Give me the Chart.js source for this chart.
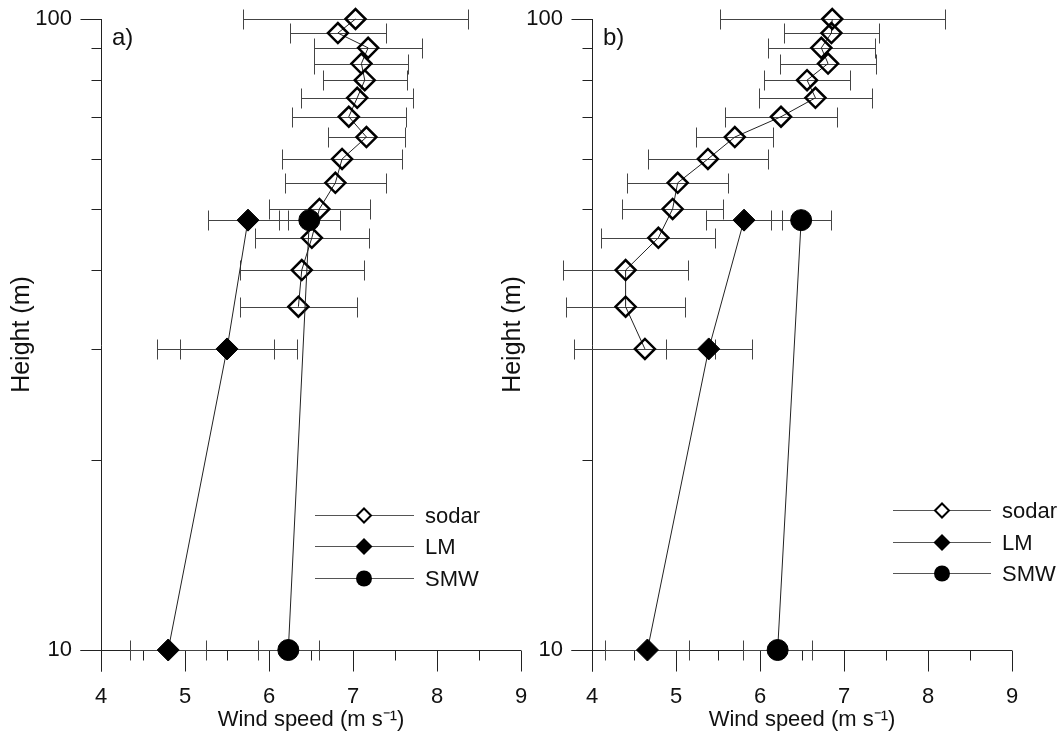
<!DOCTYPE html>
<html>
<head>
<meta charset="utf-8">
<script src="https://cdn.jsdelivr.net/npm/chart.js@4.4.1/dist/chart.umd.min.js"></script>
<style>
  html, body { margin: 0; padding: 0; background: #fff; }
  #wrap { position: relative; width: 1062px; height: 738px; overflow: hidden; }
  canvas { position: absolute; top: 0; }
  #chartA { left: 0; }
  #chartB { left: 491px; }
</style>
</head>
<body>
<div id="wrap">
  <canvas id="chartA" width="531" height="738"></canvas>
  <canvas id="chartB" width="571" height="738"></canvas>
</div>
<script>
// sodar profiles, bottom to top
const sodarHeightsA = [35, 40, 45, 50, 55, 60, 65, 70, 75, 80, 85, 90, 95, 100];
const sodarSpeedA   = [6.35, 6.39, 6.51, 6.60, 6.79, 6.87, 7.16, 6.95, 7.05, 7.14, 7.10, 7.18, 6.82, 7.03];
const sodarErrA     = [0.70, 0.74, 0.68, 0.60, 0.60, 0.71, 0.46, 0.68, 0.67, 0.50, 0.56, 0.64, 0.57, 1.34];

const sodarHeightsB = [30, 35, 40, 45, 50, 55, 60, 65, 70, 75, 80, 85, 90, 95, 100];
const sodarSpeedB   = [4.63, 4.40, 4.40, 4.79, 4.96, 5.02, 5.38, 5.70, 6.25, 6.66, 6.56, 6.81, 6.73, 6.85, 6.86];
const sodarErrB     = [0.84, 0.71, 0.74, 0.68, 0.60, 0.60, 0.71, 0.46, 0.67, 0.67, 0.51, 0.57, 0.64, 0.57, 1.34];

// model profiles
const lmHeights    = [10, 30, 48];
const lmSpeedA     = [4.80, 5.50, 5.75];
const lmErrA       = [0.45, 0.83, 0.48];
const lmErrInnerA  = [0, 0.56, 0];
const lmSpeedB     = [4.66, 5.39, 5.81];
const lmErrB       = [0.50, 0.51, 0.45];

const smwHeights   = [10, 48];
const smwSpeedA    = [6.23, 6.48];
const smwErrA      = [0.36, 0.36];
const smwSpeedB    = [6.21, 6.49];
const smwErrB      = [0.41, 0.36];

const seriesNames = ['sodar', 'LM', 'SMW'];
const xTickValues = [4, 5, 6, 7, 8, 9];
const xHalfTicks  = [4.5, 5.5, 6.5, 7.5, 8.5];
const yTicks      = [10, 20, 30, 40, 50, 60, 70, 80, 90, 100];
const yLabelled   = [10, 100];
const xTitle = 'Wind speed (m s\u207B\u00B9)';
const yTitle = 'Height (m)';

const FONT = '"Liberation Sans", Arial, Helvetica, sans-serif';
Chart.defaults.font.family = FONT;
Chart.defaults.color = '#111';

const pts = (xs, ys) => xs.map((v, i) => ({ x: v, y: ys[i] }));

function errBar(ctx, xs, ys, x0, x1, y0) {
  const a = Math.round(xs.getPixelForValue(x0)) + 0.5;
  const b = Math.round(xs.getPixelForValue(x1)) + 0.5;
  const py = Math.round(ys.getPixelForValue(y0)) + 0.5;
  ctx.moveTo(a, py); ctx.lineTo(b, py);
  ctx.moveTo(a, py - 10); ctx.lineTo(a, py + 10);
  ctx.moveTo(b, py - 10); ctx.lineTo(b, py + 10);
}

const profileDecor = {
  id: 'profileDecor',
  beforeDatasetsDraw(chart) {
    const { ctx, scales: { x, y } } = chart;
    const left = Math.round(x.left) + 0.5, right = x.right;
    const top = y.top, bottom = Math.round(y.bottom) + 0.5;
    ctx.save();
    ctx.strokeStyle = '#222';
    ctx.lineWidth = 1;
    ctx.beginPath();
    // axis lines: the y axis runs on below 10 m, the x axis sits on the 10 m level
    ctx.moveTo(left, top); ctx.lineTo(left, bottom + 21);
    ctx.moveTo(left - 21, bottom); ctx.lineTo(right, bottom);
    yTicks.forEach(v => {
      const py = Math.round(y.getPixelForValue(v)) + 0.5;
      const len = yLabelled.includes(v) ? 21 : 10;
      ctx.moveTo(left - len, py); ctx.lineTo(left, py);
    });
    xTickValues.forEach(v => {
      const px = Math.round(x.getPixelForValue(v)) + 0.5;
      ctx.moveTo(px, bottom); ctx.lineTo(px, bottom + 21);
    });
    xHalfTicks.forEach(v => {
      const px = Math.round(x.getPixelForValue(v)) + 0.5;
      ctx.moveTo(px, bottom); ctx.lineTo(px, bottom + 10);
    });
    ctx.stroke();

    // horizontal error bars
    ctx.strokeStyle = '#444';
    ctx.beginPath();
    chart.data.datasets.forEach(ds => {
      if (!ds.xErr) return;
      ds.data.forEach((p, j) => {
        errBar(ctx, x, y, p.x - ds.xErr[j], p.x + ds.xErr[j], p.y);
        if (ds.xErrInner && ds.xErrInner[j]) {
          errBar(ctx, x, y, p.x - ds.xErrInner[j], p.x + ds.xErrInner[j], p.y);
        }
      });
    });
    ctx.stroke();
    ctx.restore();
  },
  afterDraw(chart, args, opts) {
    const ctx = chart.ctx;
    const lg = opts.legend;
    ctx.save();
    ctx.font = '24px ' + FONT;
    ctx.fillStyle = '#111';
    ctx.textBaseline = 'alphabetic';
    ctx.fillText(opts.label, chart.chartArea.left + opts.labelDx, 45);

    ctx.font = '22px ' + FONT;
    ctx.textBaseline = 'middle';
    seriesNames.forEach((name, k) => {
      const yy = Math.round(lg.rows[k]) + 0.5;
      ctx.strokeStyle = '#555';
      ctx.lineWidth = 1;
      ctx.beginPath();
      ctx.moveTo(lg.x1, yy); ctx.lineTo(lg.x2, yy);
      ctx.stroke();
      ctx.beginPath();
      if (k === 2) {
        ctx.arc(lg.xm, yy, 8, 0, Math.PI * 2);
      } else {
        const r = k === 0 ? 7 : 8.5;
        ctx.moveTo(lg.xm - r, yy); ctx.lineTo(lg.xm, yy - r);
        ctx.lineTo(lg.xm + r, yy); ctx.lineTo(lg.xm, yy + r);
        ctx.closePath();
      }
      ctx.fillStyle = k === 0 ? '#fff' : '#000';
      ctx.fill();
      if (k === 0) {
        ctx.strokeStyle = '#000';
        ctx.lineWidth = 2;
        ctx.stroke();
      }
      ctx.fillStyle = '#111';
      ctx.fillText(name, lg.xt, yy + 1);
    });
    ctx.restore();
  }
};

function makeChart(id, p) {
  const datasets = [
    {
      label: 'SMW', data: pts(p.smwSpeed, smwHeights), xErr: p.smwErr,
      showLine: true, clip: false, borderColor: '#222', borderWidth: 1,
      pointStyle: 'circle', pointRadius: 10.5,
      pointBackgroundColor: '#000', pointBorderColor: '#000', pointBorderWidth: 1
    },
    {
      label: 'LM', data: pts(p.lmSpeed, lmHeights), xErr: p.lmErr, xErrInner: p.lmErrInner,
      showLine: true, clip: false, borderColor: '#222', borderWidth: 1,
      pointStyle: 'rectRot', pointRadius: 11,
      pointBackgroundColor: '#000', pointBorderColor: '#000', pointBorderWidth: 1
    },
    {
      label: 'sodar', data: pts(p.sodarSpeed, p.sodarHeights), xErr: p.sodarErr,
      showLine: true, clip: false, borderColor: '#222', borderWidth: 1,
      pointStyle: 'rectRot', pointRadius: 10,
      pointBackgroundColor: 'rgba(0,0,0,0)', pointBorderColor: '#000', pointBorderWidth: 2.5
    }
  ];

  return new Chart(document.getElementById(id), {
    type: 'scatter',
    data: { datasets },
    options: {
      responsive: false,
      animation: false,
      events: [],
      layout: { autoPadding: false, padding: { top: 19, right: p.padRight, left: 0, bottom: 0 } },
      plugins: {
        legend: { display: false },
        tooltip: { enabled: false },
        profileDecor: { label: p.label, labelDx: 11, legend: p.legend }
      },
      scales: {
        x: {
          type: 'linear', min: 4, max: 9,
          grid: { display: false, drawTicks: false }, border: { display: false },
          ticks: { stepSize: 1, padding: 34, font: { size: 22 }, color: '#111' },
          title: { display: true, text: xTitle, font: { size: 22 }, color: '#111',
                   padding: { top: 0, bottom: 5 } },
          afterFit: s => {
            s.height = 88;
            s.paddingLeft = 0; s.paddingRight = 0;
          }
        },
        y: {
          type: 'logarithmic', min: 10, max: 100,
          grid: { display: false, drawTicks: false }, border: { display: false },
          afterBuildTicks: s => { s.ticks = yTicks.map(v => ({ value: v })); },
          ticks: {
            padding: 29, font: { size: 22 }, color: '#111',
            callback: v => (yLabelled.includes(v) ? String(v) : '')
          },
          title: { display: true, text: yTitle, font: { size: 25 }, color: '#111',
                   padding: { top: 7, bottom: 0 } },
          afterFit: s => {
            s.width = 101;
            s.paddingTop = 0; s.paddingBottom = 0;
          }
        }
      }
    },
    plugins: [profileDecor]
  });
}

makeChart('chartA', {
  label: 'a)', padRight: 10,
  sodarHeights: sodarHeightsA, sodarSpeed: sodarSpeedA, sodarErr: sodarErrA,
  lmSpeed: lmSpeedA, lmErr: lmErrA, lmErrInner: lmErrInnerA,
  smwSpeed: smwSpeedA, smwErr: smwErrA,
  legend: { x1: 315, x2: 414, xm: 364, xt: 425, rows: [515, 546, 578] }
});

makeChart('chartB', {
  label: 'b)', padRight: 50,
  sodarHeights: sodarHeightsB, sodarSpeed: sodarSpeedB, sodarErr: sodarErrB,
  lmSpeed: lmSpeedB, lmErr: lmErrB, lmErrInner: null,
  smwSpeed: smwSpeedB, smwErr: smwErrB,
  legend: { x1: 402, x2: 500, xm: 451, xt: 511, rows: [510, 542, 573] }
});
</script>
</body>
</html>
